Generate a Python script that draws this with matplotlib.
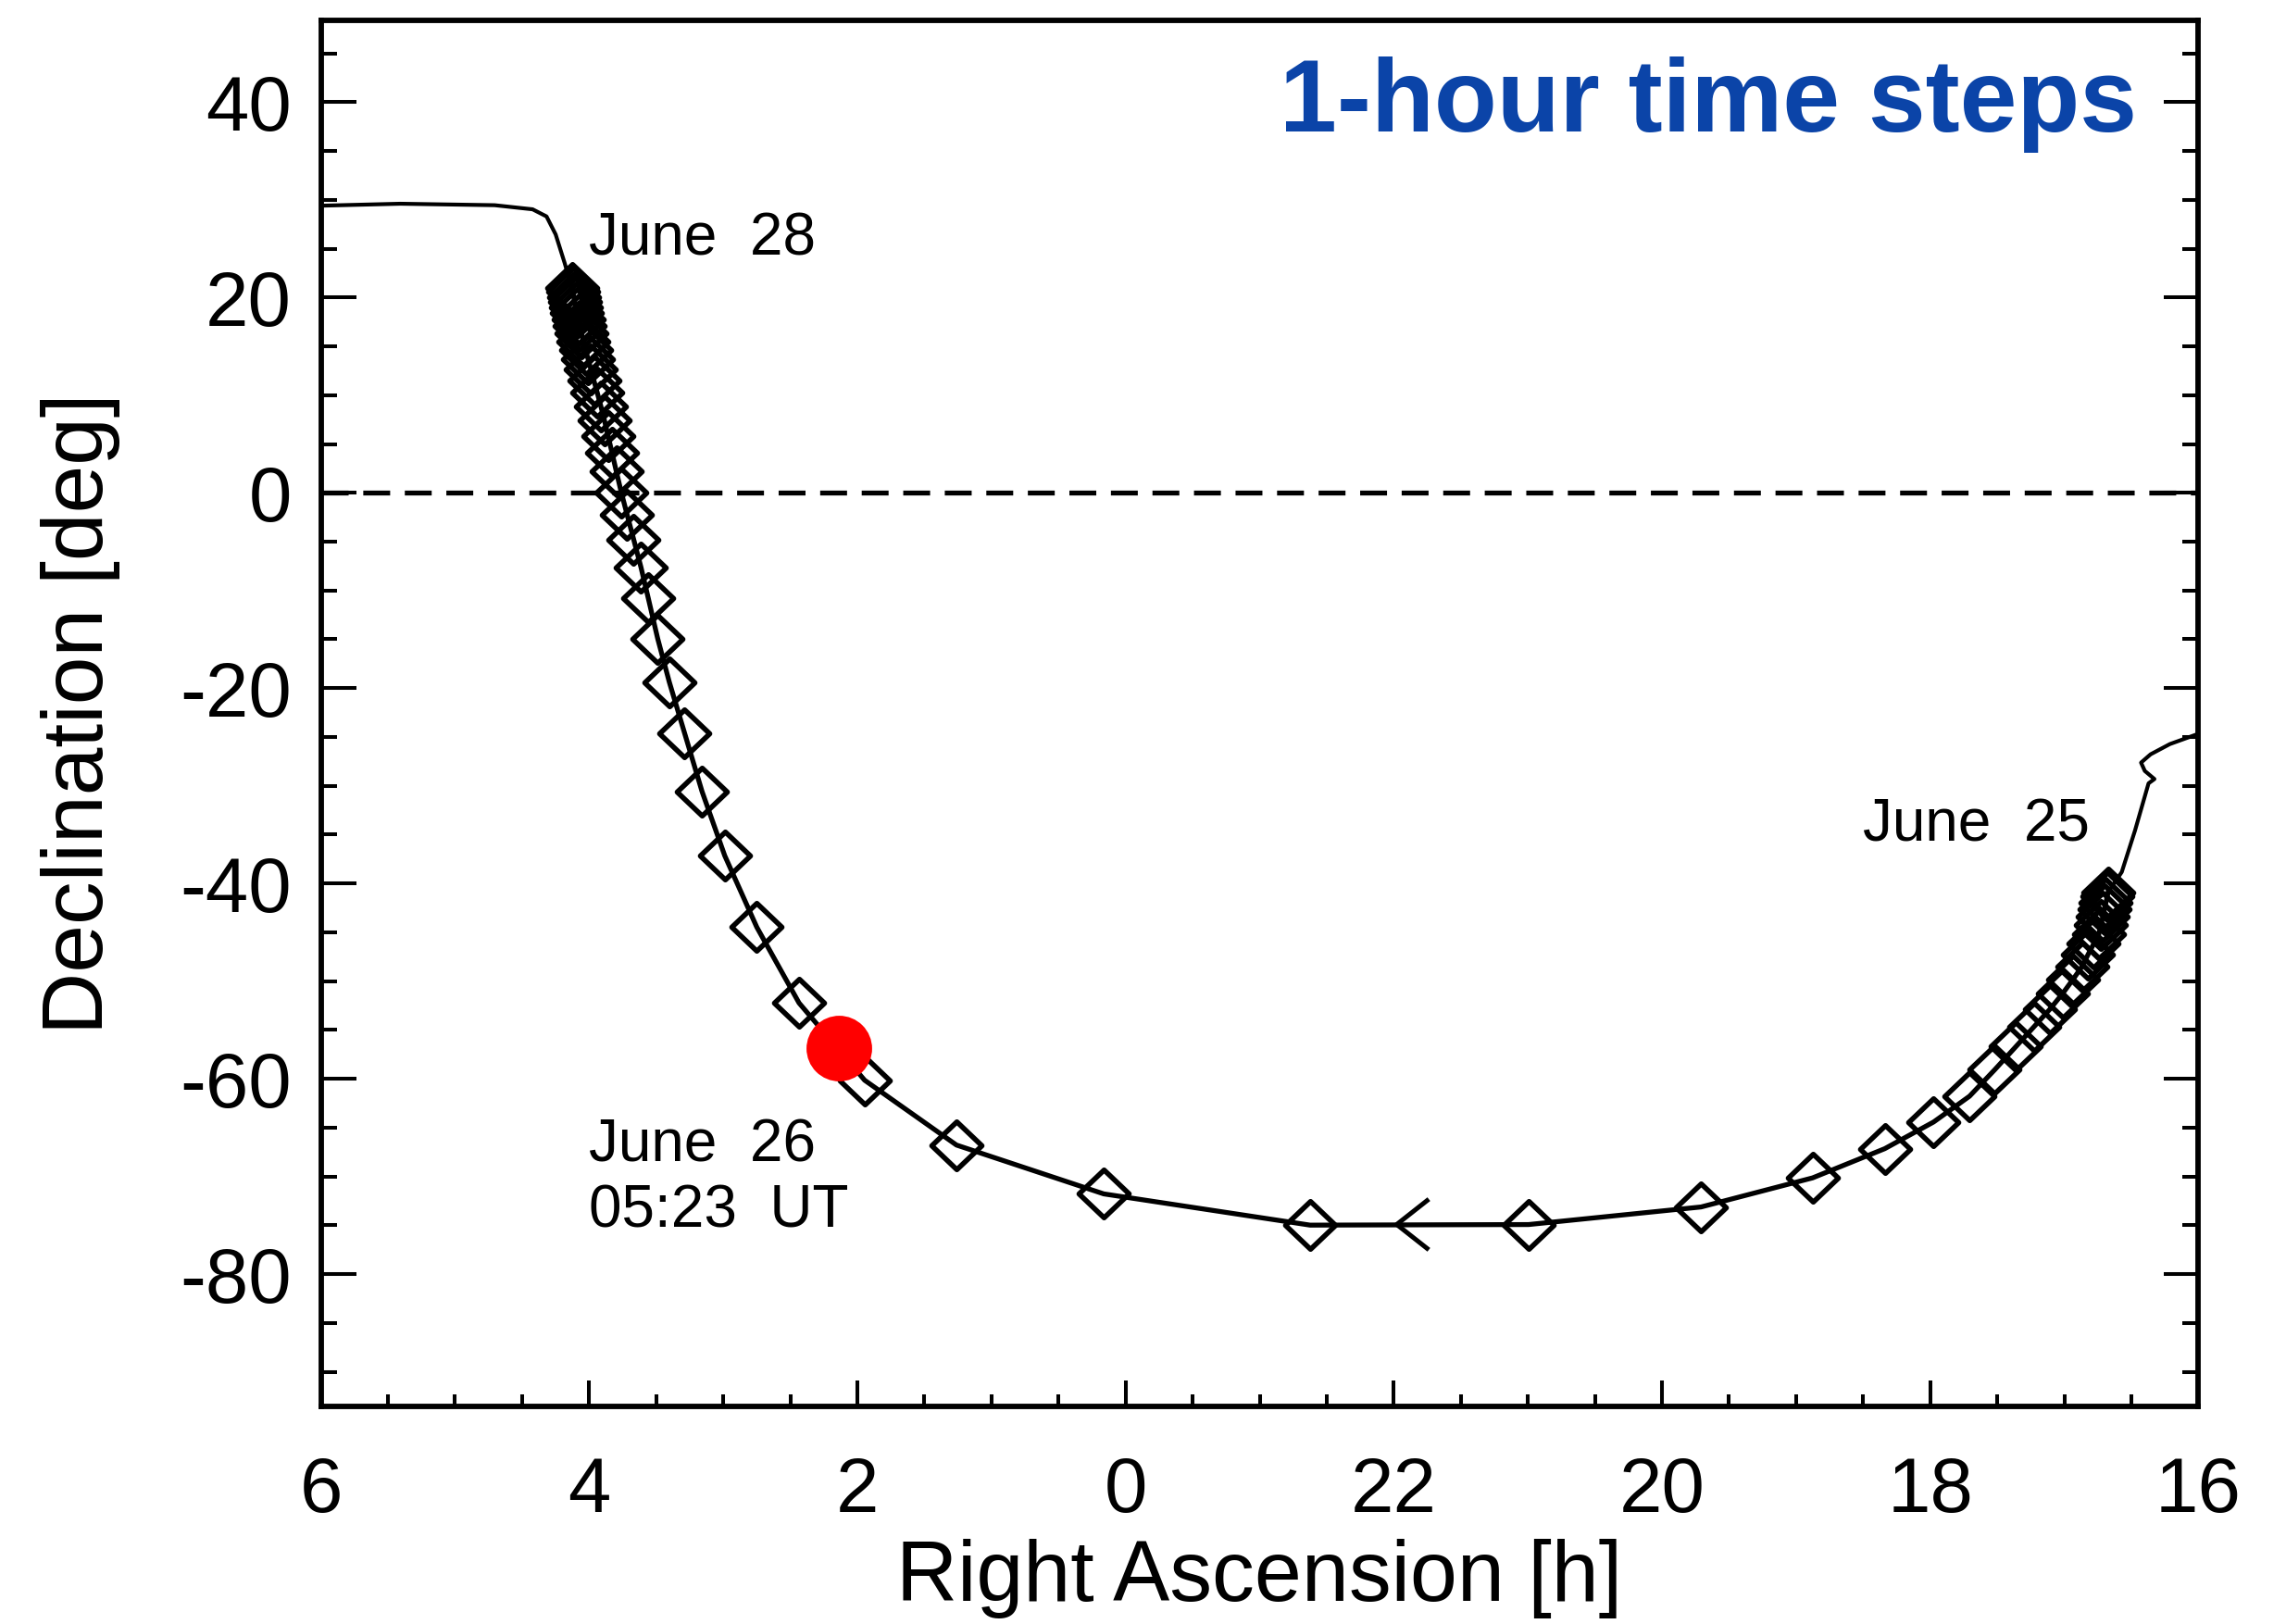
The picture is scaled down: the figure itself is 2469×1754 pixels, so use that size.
import matplotlib
matplotlib.use("Agg")
import matplotlib.pyplot as plt
from matplotlib.path import Path

# Track of the object, 1-hour steps, in time order (June 25 -> June 28).
# RA is unwrapped across 0h: negative values mean RA - 24 h.
ra_hourly = [
    -7.326, -7.320, -7.310, -7.299, -7.287, -7.274, -7.257, -7.220, -7.178,
    -7.132, -7.065, -6.987, -6.891, -6.774, -6.638, -6.480, -6.293, -6.025,
    -5.661, -5.123, -4.291, -3.005, -1.376, 0.163, 1.261, 1.946, 2.435,
    2.750, 2.989, 3.158, 3.288, 3.402, 3.489, 3.560, 3.614, 3.668,
    3.717, 3.761, 3.797, 3.829, 3.859, 3.886, 3.913, 3.939, 3.964,
    3.986, 4.007, 4.026, 4.043, 4.058, 4.068, 4.079, 4.089, 4.099,
    4.108, 4.115, 4.123, 4.129,
]
dec_hourly = [
    -40.90, -41.33, -41.96, -42.66, -43.40, -44.25, -45.19, -46.16, -47.25,
    -48.51, -49.82, -51.28, -52.90, -54.67, -56.72, -59.09, -61.79, -64.43,
    -67.16, -70.15, -73.13, -74.93, -74.99, -71.79, -66.79, -60.15, -52.24,
    -44.48, -37.16, -30.60, -24.63, -19.40, -14.93, -10.75, -7.61, -4.78,
    -2.24, 0.07, 2.16, 4.07, 5.82, 7.42, 8.88, 10.22, 11.46,
    12.60, 13.64, 14.61, 15.51, 16.33, 17.07, 17.76, 18.40, 19.00,
    19.55, 20.07, 20.57, 21.01,
]

# track before the first and after the last hourly marker
ra_before = [-8.001, -7.787, -7.643, -7.572, -7.600, -7.672, -7.628, -7.527, -7.428]
dec_before = [-24.67, -25.73, -26.78, -27.63, -28.48, -29.31, -29.75, -34.58, -38.84]
ra_after = [4.184, 4.250, 4.318, 4.422, 4.705, 5.409, 6.000]
dec_after = [23.58, 26.46, 28.30, 29.03, 29.45, 29.60, 29.40]

# June 26 05:23 UT position
ra_event = [2.14]
dec_event = [-56.9]

# direction of motion
ra_arrow = [-2.02]
dec_arrow = [-74.9]

xtick_pos = [6, 4, 2, 0, -2, -4, -6, -8]
xtick_labels = ["6", "4", "2", "0", "22", "20", "18", "16"]
ytick_pos = [-80, -60, -40, -20, 0, 20, 40]

font = "Liberation Sans"
plt.rcParams["font.family"] = [font, "DejaVu Sans"]
plt.rcParams["axes.unicode_minus"] = False

fig = plt.figure(figsize=(24.69, 17.54), dpi=100)
ax = fig.add_axes([0.1404, 0.1337, 0.8213, 0.8539])

# zero declination
ax.axhline(0, color="black", lw=3.8, linestyle=(0, (5.5, 3.0)), zorder=1)

# thin tails
ax.plot(ra_before + ra_hourly[:1], dec_before + dec_hourly[:1],
        color="black", lw=3.0, zorder=2)
ax.plot(ra_hourly[-1:] + ra_after, dec_hourly[-1:] + dec_after,
        color="black", lw=3.0, zorder=2)

# hourly track
ax.plot(ra_hourly, dec_hourly, color="black", lw=3.8, zorder=3)

diamond = Path([(0, 1), (1.05, 0), (0, -1), (-1.05, 0), (0, 1)],
               [Path.MOVETO, Path.LINETO, Path.LINETO, Path.LINETO, Path.CLOSEPOLY])
ax.plot(ra_hourly, dec_hourly, linestyle="none", marker=diamond,
        markersize=39, mfc="none", mec="black", mew=4.0, zorder=4)

chevron = Path([(1.27, 1), (0, 0), (1.27, -1)],
               [Path.MOVETO, Path.LINETO, Path.LINETO])
ax.plot(ra_arrow, dec_arrow, linestyle="none", marker=chevron,
        markersize=50, mfc="none", mec="black", mew=3.6, zorder=4)

ax.plot(ra_event, dec_event, linestyle="none", marker="o",
        markersize=51, color="#ff0000", mec="none", zorder=5)

# labels on the track
ax.text(4.0, 24.3, "June  28", fontsize=46, ha="left", va="baseline")
ax.text(-5.5, -35.7, "June  25", fontsize=46, ha="left", va="baseline")
ax.text(4.0, -68.5, "June  26", fontsize=46, ha="left", va="baseline")
ax.text(4.0, -75.2, "05:23  UT", fontsize=46, ha="left", va="baseline")

# axes
ax.set_xlim(6, -8)
ax.set_ylim(-93.6, 48.4)
ax.set_xticks(xtick_pos)
ax.set_xticklabels(xtick_labels)
ax.set_xticks([v * 0.5 for v in range(-16, 13)], minor=True)
ax.set_yticks(ytick_pos)
ax.set_yticks(list(range(-90, 50, 5)), minor=True)

ax.tick_params(axis="both", which="both", direction="in",
               top=False, right=True, color="black")
ax.tick_params(axis="y", which="major", length=27, width=2.9,
               labelsize=60, pad=23)
ax.tick_params(axis="y", which="minor", length=12, width=2.9)
ax.tick_params(axis="x", which="major", length=20, width=2.9,
               labelsize=60, pad=38)
ax.tick_params(axis="x", which="minor", length=9.5, width=2.9)

for side in ax.spines.values():
    side.set_linewidth(4.2)

ax.set_xlabel("Right Ascension [h]", fontsize=66)
ax.set_ylabel("Declination [deg]", fontsize=67)
ax.xaxis.set_label_coords(0.5, -0.095)
ax.yaxis.set_label_coords(-0.107, 0.5)

fig.text(0.9346, 0.9192, "1-hour time steps", fontsize=80, fontweight="bold",
         color="#0B44A8", ha="right", va="baseline")

fig.savefig("out.png", dpi=100)
plt.close(fig)
